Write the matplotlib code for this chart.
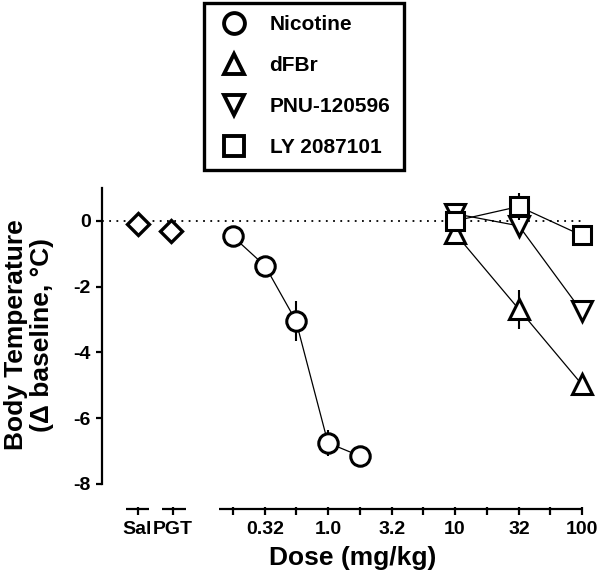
import numpy as np
import matplotlib.pyplot as plt
from matplotlib.lines import Line2D

plt.rcParams['font.family'] = ['Liberation Sans', 'DejaVu Sans']
plt.rcParams['font.weight'] = 'bold'
plt.rcParams['axes.unicode_minus'] = False

# control groups
ctrl_labels = ['Sal', 'PGT']
ctrl_temp = [-0.1, -0.3]

# nicotine
nic_dose = [0.178, 0.32, 0.56, 1.0, 1.78]
nic_temp = [-0.47, -1.37, -3.04, -6.75, -7.15]
nic_err = [0.1, 0.1, 0.6, 0.4, 0.2]

# other agonists
drug_dose = [10, 32, 100]
dfbr_temp = [-0.37, -2.69, -4.97]
dfbr_err = [0.1, 0.6, 0.1]
pnu_temp = [0.22, -0.15, -2.75]
pnu_err = [0.1, 0.15, 0.1]
ly_temp = [0.0, 0.44, -0.44]
ly_err = [0.3, 0.4, 0.1]

xtick_doses = [0.178, 0.32, 0.56, 1.0, 1.78, 3.2, 5.6, 10, 17.8, 32, 56, 100]
xtick_labels = ['', '0.32', '', '1.0', '', '3.2', '', '10', '', '32', '', '100']

# x positions (log10 dose) for the separate control axis pieces
ctrl_pos = [-1.50, -1.24]
ctrl_tick = [-1.50, -1.22]
ctrl_span = [(-1.59, -1.41), (-1.31, -1.12)]
main_span = (-0.86, 2.0)
y_axis_line = -8.76

fig = plt.figure(figsize=(6.0, 5.72), dpi=100)
ax = fig.add_axes([0.17, 0.1052, 0.825, 0.566])
ax.set_xlim(-1.78, 2.12)
ax.set_ylim(-8.85, 1)

for s in ['top', 'right', 'bottom']:
    ax.spines[s].set_visible(False)
ax.spines['left'].set_linewidth(1.6)
ax.spines['left'].set_bounds(-8, 1)
ax.set_yticks([0, -2, -4, -6, -8])
ax.set_yticklabels(['0', '-2', '-4', '-6', '-8'])
ax.tick_params(axis='y', length=4, width=1.6, labelsize=14, pad=4)
ax.set_xticks([])

# zero line
ax.plot([-1.78, 2.0], [0, 0], color='black', lw=1.3, ls=(0, (1, 3)), zorder=1)

mk = dict(mfc='white', mec='black', mew=2.2, color='black', lw=0.9,
          ecolor='black', elinewidth=1.5, capsize=0)

ax.plot(ctrl_pos, ctrl_temp, 'D', ms=11, mfc='white', mec='black', mew=2.4, zorder=3)

ax.errorbar(np.log10(nic_dose), nic_temp, yerr=nic_err, marker='o', ms=14, zorder=3, **mk)
ax.errorbar(np.log10(drug_dose), dfbr_temp, yerr=dfbr_err, marker='^', ms=14, zorder=3, **mk)
ax.errorbar(np.log10(drug_dose), pnu_temp, yerr=pnu_err, marker='v', ms=14, zorder=4, **mk)
ax.errorbar(np.log10(drug_dose), ly_temp, yerr=ly_err, marker='s', ms=13.5, zorder=5, **mk)

# broken x axis
seg = dict(color='black', lw=1.6, clip_on=False, solid_capstyle='butt')
for (a, b), t, lab in zip(ctrl_span, ctrl_tick, ctrl_labels):
    ax.plot([a, b], [y_axis_line, y_axis_line], **seg)
    ax.plot([t, t], [y_axis_line + 0.07, y_axis_line - 0.18], **seg)
    ax.text(t, -9.38, lab, ha='center', va='center', fontsize=14)
ax.plot(list(main_span), [y_axis_line, y_axis_line], **seg)
for d, lab in zip(xtick_doses, xtick_labels):
    t = np.log10(d)
    ax.plot([t, t], [y_axis_line + 0.07, y_axis_line - 0.18], **seg)
    if lab:
        ax.text(t, -9.38, lab, ha='center', va='center', fontsize=14)

fig.text(29 / 600, 1 - 335 / 572, 'Body Temperature\n(\u0394 baseline, \u00b0C)',
         rotation=90, ha='center', va='center', fontsize=19, multialignment='center',
         linespacing=1.15)
fig.text(353 / 600, 1 - 558 / 572, 'Dose (mg/kg)', ha='center', va='center', fontsize=19)

handles = [
    Line2D([], [], ls='none', marker='o', ms=15, mfc='white', mec='black', mew=2.8),
    Line2D([], [], ls='none', marker='^', ms=15, mfc='white', mec='black', mew=2.8),
    Line2D([], [], ls='none', marker='v', ms=15, mfc='white', mec='black', mew=2.8),
    Line2D([], [], ls='none', marker='s', ms=14, mfc='white', mec='black', mew=2.8),
]
names = ['Nicotine', 'dFBr', 'PNU-120596', 'LY 2087101']
leg = fig.legend(handles, names, loc='upper left',
                 bbox_to_anchor=(204 / 600, 1 - 183 / 572, 200 / 600, 180 / 572),
                 mode='expand', fancybox=False, framealpha=1, edgecolor='black',
                 fontsize=15, handlelength=1.7, handletextpad=0.85,
                 labelspacing=1.05, borderpad=0.6, borderaxespad=0)
leg.get_frame().set_linewidth(2.4)

fig.savefig('out.png', dpi=100)
